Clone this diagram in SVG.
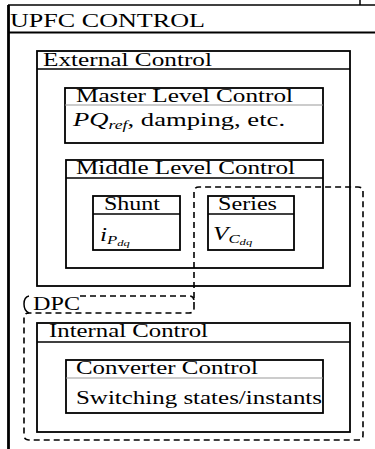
<svg xmlns="http://www.w3.org/2000/svg" width="375" height="449" viewBox="0 0 375 449">
<style>
.box{fill:none;stroke:#000;stroke-width:1.8}
.div{stroke:#000;stroke-width:1.5}
.thin{stroke:#999;stroke-width:1}
.dash{fill:none;stroke:#000;stroke-width:1.6;stroke-dasharray:6 4}
text{font-family:"Liberation Serif","Times New Roman",serif;font-size:18px;fill:#000}
</style>
<rect width="375" height="449" fill="#fff"/>
<g id="upfc">
<line x1="8.5" y1="5" x2="8.5" y2="449" stroke="#000" stroke-width="2.8"/>
<line x1="8" y1="5" x2="375" y2="5" stroke="#000" stroke-width="1.5"/>
<line x1="8" y1="32.5" x2="375" y2="32.5" stroke="#000" stroke-width="2"/>
<line x1="360" y1="0" x2="360" y2="5" stroke="#000" stroke-width="1.5"/>
<text x="10" y="27" textLength="195" lengthAdjust="spacingAndGlyphs">UPFC CONTROL</text>
</g>
<g id="external">
<rect class="box" x="37" y="51" width="313" height="235"/>
<line class="div" x1="37" y1="69" x2="350" y2="69"/>
<text x="43" y="66" textLength="169" lengthAdjust="spacingAndGlyphs">External Control</text>
</g>
<g id="master">
<rect class="box" x="65" y="88" width="258" height="55"/>
<line class="thin" x1="65" y1="105" x2="323" y2="105"/>
<text x="76" y="102" textLength="217" lengthAdjust="spacingAndGlyphs">Master Level Control</text>
<text transform="translate(73,126) scale(1.48,1)"><tspan font-style="italic">PQ</tspan><tspan font-style="italic" font-size="12" dy="3">ref</tspan><tspan dy="-3">, damping, etc.</tspan></text>
</g>
<g id="middle">
<rect class="box" x="66" y="160" width="257" height="108"/>
<line class="div" x1="66" y1="178" x2="323" y2="178"/>
<text x="76" y="174" textLength="219" lengthAdjust="spacingAndGlyphs">Middle Level Control</text>
</g>
<g id="shunt">
<rect class="box" x="93" y="196" width="87" height="54"/>
<line class="div" x1="93" y1="214" x2="180" y2="214"/>
<text x="104" y="210" textLength="56" lengthAdjust="spacingAndGlyphs">Shunt</text>
<text transform="translate(100,241) scale(1.4,1)"><tspan font-style="italic">i</tspan><tspan font-style="italic" font-size="12" dy="3">P</tspan><tspan font-style="italic" font-size="9" dy="2">dq</tspan></text>
</g>
<g id="series">
<rect class="box" x="208" y="196" width="86" height="54"/>
<line class="div" x1="208" y1="214" x2="294" y2="214"/>
<text x="218" y="210" textLength="59" lengthAdjust="spacingAndGlyphs">Series</text>
<text transform="translate(213,240) scale(1.4,1)"><tspan font-style="italic">V</tspan><tspan font-style="italic" font-size="12" dy="3">C</tspan><tspan font-style="italic" font-size="9" dy="2">dq</tspan></text>
</g>
<g id="internal">
<rect class="box" x="37" y="323" width="313" height="109"/>
<line class="div" x1="37" y1="342" x2="350" y2="342"/>
<text x="49" y="337" textLength="159" lengthAdjust="spacingAndGlyphs">Internal Control</text>
</g>
<g id="converter">
<rect class="box" x="66" y="360" width="257" height="53"/>
<line class="thin" x1="66" y1="378" x2="323" y2="378"/>
<text x="76" y="374" textLength="182" lengthAdjust="spacingAndGlyphs">Converter Control</text>
<text x="76" y="404" textLength="246" lengthAdjust="spacingAndGlyphs">Switching states/instants</text>
</g>
<g id="dpc">
<path class="dash" d="M194,308 V192 Q194,187 199,187 H358 Q363,187 363,192 V435 Q363,440 358,440 H29 Q24,440 24,435 V318 Q24,313 29,313 H189 Q194,313 194,308"/>
<path class="dash" d="M80,296 H189 Q194,296 194,301"/>
<path fill="none" stroke="#000" stroke-width="1.5" d="M29,296 Q24,297 24,304 Q24,311 29,313"/>
<text x="33" y="310" textLength="47" lengthAdjust="spacingAndGlyphs">DPC</text>
</g>
<g id="connectors"></g>
</svg>
